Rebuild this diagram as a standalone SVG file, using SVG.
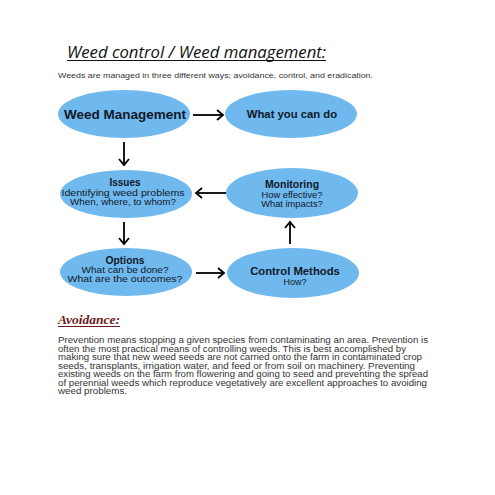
<svg xmlns="http://www.w3.org/2000/svg" width="495" height="495" viewBox="0 0 495 495">
<style>
.node ellipse{fill:#70b9ef;stroke:none}
.b{font-family:"Liberation Sans",Arial,sans-serif;font-weight:bold;fill:#111827;text-anchor:middle}
.r{font-family:"Liberation Sans",Arial,sans-serif;fill:#111827;text-anchor:middle}
.p{font-family:"Liberation Sans",Arial,sans-serif;font-size:8.5px;fill:#333}
.conn line{stroke:#000;stroke-width:1.8;fill:none}
</style>
<defs>
<marker id="ah" markerUnits="userSpaceOnUse" markerWidth="12" markerHeight="14" refX="7" refY="6" orient="auto">
<path d="M1,1 L7,6 L1,11" fill="none" stroke="#000" stroke-width="1.8"/>
</marker>
</defs>
<rect width="495" height="495" fill="#fff"/>
<text x="67" y="58" font-family="'Open Sans','DejaVu Sans',sans-serif" font-style="italic" font-size="16" fill="#111" textLength="259" lengthAdjust="spacingAndGlyphs">Weed control / Weed management:</text>
<line x1="67" y1="60.5" x2="326" y2="60.5" stroke="#111" stroke-width="1"/>
<text x="58" y="78" font-family="'Liberation Sans',Arial,sans-serif" font-size="8" fill="#333" textLength="315" lengthAdjust="spacingAndGlyphs">Weeds are managed in three different ways; avoidance, control, and eradication.</text>

<g id="weed-management" class="node">
<ellipse cx="124" cy="114" rx="66" ry="24"/>
<text class="b" x="125" y="118.5" font-size="13" textLength="122" lengthAdjust="spacingAndGlyphs">Weed Management</text>
</g>
<g id="what-you-can-do" class="node">
<ellipse cx="291" cy="114" rx="66" ry="24"/>
<text class="b" x="292" y="118" font-size="11.3">What you can do</text>
</g>
<g id="issues" class="node">
<ellipse cx="126" cy="194" rx="66" ry="24"/>
<text class="b" x="125" y="185.5" font-size="10">Issues</text>
<text class="r" x="123" y="195.5" font-size="9.3" textLength="123" lengthAdjust="spacingAndGlyphs">Identifying weed problems</text>
<text class="r" x="123" y="205" font-size="9.3" textLength="106" lengthAdjust="spacingAndGlyphs">When, where, to whom?</text>
</g>
<g id="monitoring" class="node">
<ellipse cx="292" cy="193" rx="66" ry="25"/>
<text class="b" x="292" y="188" font-size="10.5">Monitoring</text>
<text class="r" x="292" y="197.5" font-size="9.3">How effective?</text>
<text class="r" x="292" y="207" font-size="9.3">What impacts?</text>
</g>
<g id="options" class="node">
<ellipse cx="126" cy="272" rx="66" ry="24"/>
<text class="b" x="125" y="264" font-size="10.3">Options</text>
<text class="r" x="125" y="273" font-size="8.8" textLength="87" lengthAdjust="spacingAndGlyphs">What can be done?</text>
<text class="r" x="125" y="282" font-size="8.8" textLength="115" lengthAdjust="spacingAndGlyphs">What are the outcomes?</text>
</g>
<g id="control-methods" class="node">
<ellipse cx="293" cy="273" rx="66" ry="25"/>
<text class="b" x="295" y="274.5" font-size="11.3">Control Methods</text>
<text class="r" x="295" y="284.5" font-size="9">How?</text>
</g>

<g id="connectors" class="conn">
<line x1="193" y1="115" x2="223" y2="115" marker-end="url(#ah)"/>
<line x1="124" y1="142" x2="124" y2="165" marker-end="url(#ah)"/>
<line x1="226" y1="193" x2="196" y2="193" marker-end="url(#ah)"/>
<line x1="124" y1="222" x2="124" y2="244" marker-end="url(#ah)"/>
<line x1="290" y1="244" x2="290" y2="222" marker-end="url(#ah)"/>
<line x1="196" y1="273" x2="224" y2="273" marker-end="url(#ah)"/>
</g>

<text x="58" y="324" font-family="'Liberation Serif','Times New Roman',serif" font-weight="bold" font-style="italic" font-size="12.5" fill="#6b1c22" textLength="62" lengthAdjust="spacingAndGlyphs">Avoidance:</text>
<line x1="58" y1="326.5" x2="120" y2="326.5" stroke="#6b1c22" stroke-width="1"/>

<text class="p" x="58" y="343" textLength="370" lengthAdjust="spacingAndGlyphs">Prevention means stopping a given species from contaminating an area. Prevention is</text>
<text class="p" x="58" y="351.5" textLength="348" lengthAdjust="spacingAndGlyphs">often the most practical means of controlling weeds. This is best accomplished by</text>
<text class="p" x="58" y="360" textLength="364" lengthAdjust="spacingAndGlyphs">making sure that new weed seeds are not carried onto the farm in contaminated crop</text>
<text class="p" x="58" y="368.5" textLength="357" lengthAdjust="spacingAndGlyphs">seeds, transplants, irrigation water, and feed or from soil on machinery. Preventing</text>
<text class="p" x="58" y="377" textLength="370" lengthAdjust="spacingAndGlyphs">existing weeds on the farm from flowering and going to seed and preventing the spread</text>
<text class="p" x="58" y="385.5" textLength="369" lengthAdjust="spacingAndGlyphs">of perennial weeds which reproduce vegetatively are excellent approaches to avoiding</text>
<text class="p" x="58" y="394" textLength="69" lengthAdjust="spacingAndGlyphs">weed problems.</text>
</svg>
